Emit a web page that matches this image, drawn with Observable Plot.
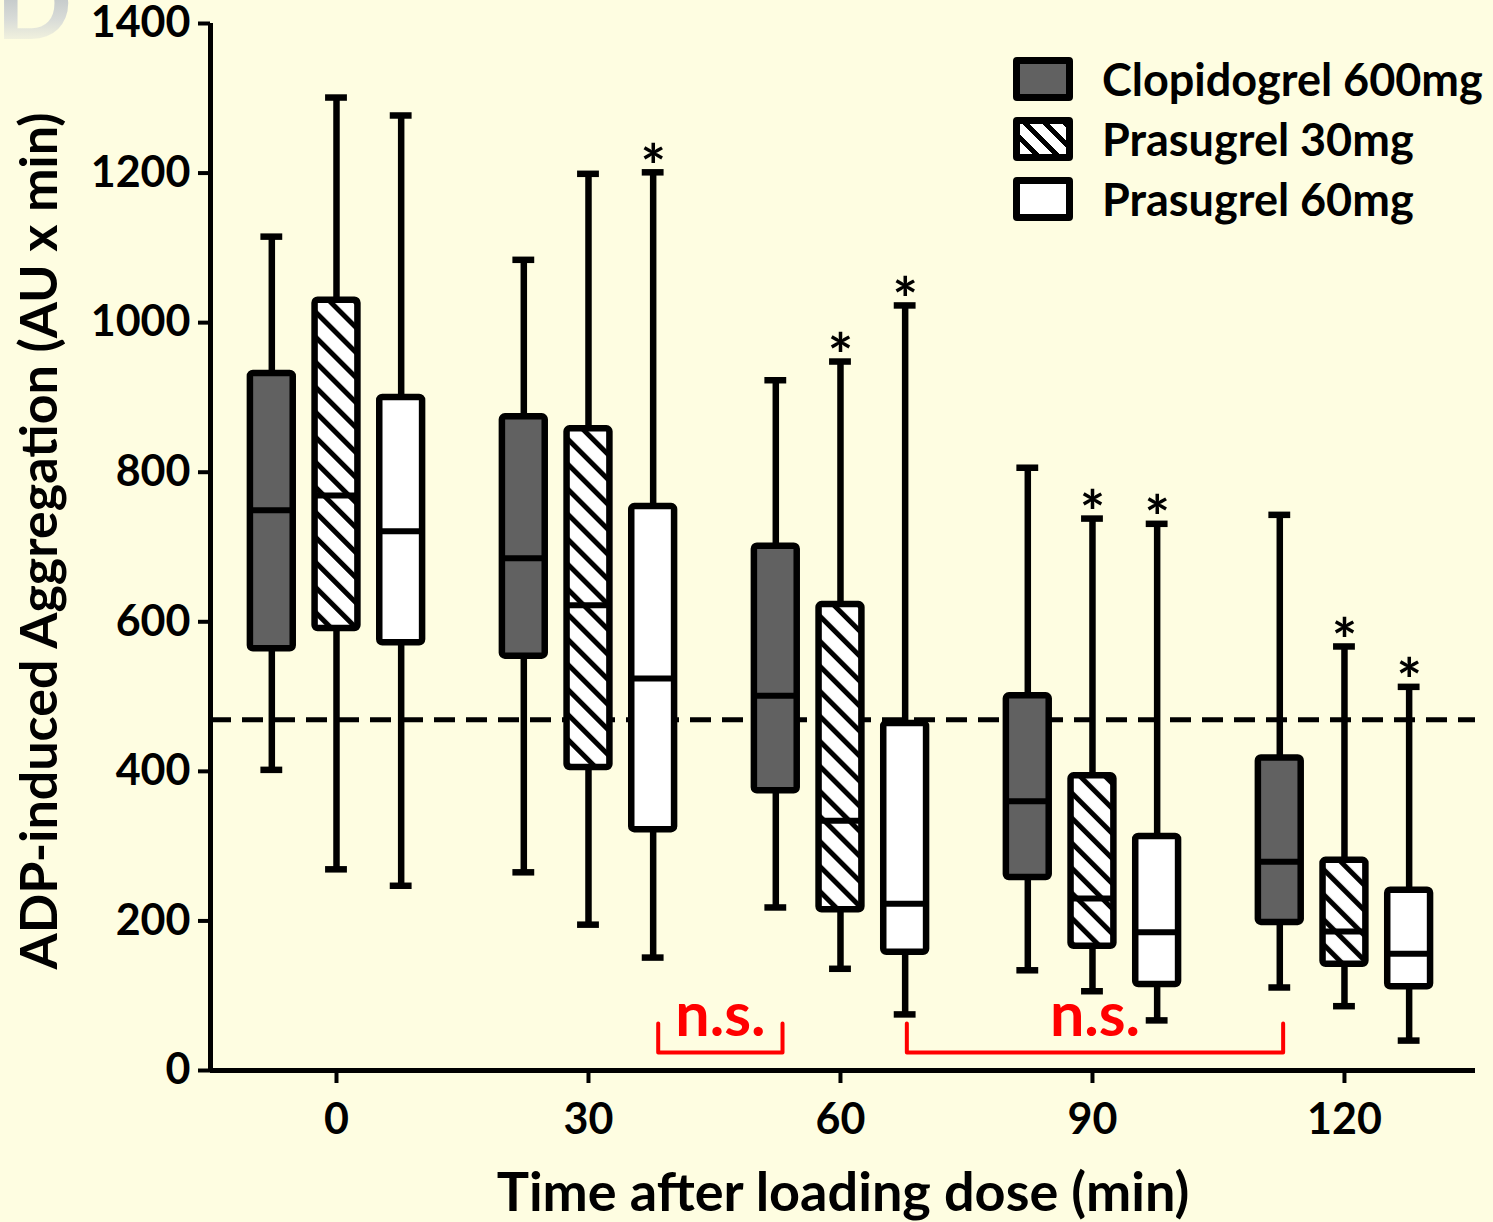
<!DOCTYPE html>
<html>
<head>
<meta charset="utf-8">
<script src="https://cdn.jsdelivr.net/npm/d3@7"></script>
<script src="https://cdn.jsdelivr.net/npm/@observablehq/plot@0.6"></script>
<style>
  html, body { margin: 0; padding: 0; background: #FEFDE1; }
  #wrap { position: relative; width: 1493px; height: 1222px; overflow: hidden; font-family: Lato, "Open Sans", sans-serif; }
  #panel { position: absolute; left: -4px; top: -50px; font-size: 100px; font-weight: bold; line-height: 1;
    background: linear-gradient(180deg, #9aa3ad 0%, #d9dcd8 70%, #fefde1 100%); -webkit-background-clip: text; background-clip: text; color: transparent; }
  #legend { position: absolute; left: 1013px; top: 49px; }
  .row { display: flex; align-items: center; height: 60px; }
  .sw { box-sizing: border-box; width: 60px; height: 44px; border: 7px solid #000; border-radius: 4px; margin-right: 29px; }
  .lbl { font-size: 45px; font-weight: bold; color: #000; white-space: nowrap; }
</style>
</head>
<body>
<div id="wrap">
  <div id="panel">D</div>
  <div id="legend"></div>
</div>
<script>
// ---- data ----
const times = [0, 30, 60, 90, 120];
const groups = ["Clopidogrel 600mg", "Prasugrel 30mg", "Prasugrel 60mg"];
// [group][time]
const whiskerMin = [[402, 265, 218, 134, 111], [269, 195, 136, 106, 86], [247, 151, 75, 67, 40]];
const quartile1  = [[564, 554, 374, 258, 198], [591, 405, 215, 166, 142], [572, 322, 158, 115, 112]];
const medians    = [[749, 685, 501, 360, 279], [769, 622, 334, 230, 186], [721, 524, 223, 185, 156]];
const quartile3  = [[932, 874, 701, 501, 418], [1030, 858, 623, 394, 281], [900, 754, 464, 313, 241]];
const whiskerMax = [[1115, 1084, 923, 806, 743], [1301, 1199, 948, 738, 567], [1277, 1201, 1023, 731, 513]];
const significant = [[0, 0, 0, 0, 0], [0, 0, 1, 1, 1], [0, 1, 1, 1, 1]];
const threshold = 469;
const nsRanges = [[38.3, 53.1], [67.9, 112.7]];
const xTicks = [0, 30, 60, 90, 120];
const yTicks = [0, 200, 400, 600, 800, 1000, 1200, 1400];

// ---- styling / layout constants ----
const offsets = [-7.7, 0, 7.7];       // group offset in minutes
const halfBox = 2.55, halfCap = 1.3;
const fills = ["#616161", "url(#hatch)", "#ffffff"];
const red = "#ff0000";
const font = "Lato, 'Open Sans', sans-serif";

const rows = [];
groups.forEach((g, gi) => times.forEach((t, ti) => rows.push({
  group: g, gi, time: t, c: t + offsets[gi],
  min: whiskerMin[gi][ti], q1: quartile1[gi][ti], med: medians[gi][ti],
  q3: quartile3[gi][ti], max: whiskerMax[gi][ti], star: significant[gi][ti]
})));

const bracketPts = nsRanges.flatMap(([a, b], k) => [
  {x: a, y: 63, k}, {x: a, y: 24, k}, {x: b, y: 24, k}, {x: b, y: 63, k}
]);
const nsLabels = nsRanges.map(([a, b]) => ({x: (a + b) / 2, y: 24, t: "n.s."}));

const boxMarks = groups.map((g, gi) => Plot.rect(rows.filter(d => d.gi === gi), {
  x1: d => d.c - halfBox, x2: d => d.c + halfBox, y1: "q1", y2: "q3",
  fill: fills[gi], stroke: "#000", strokeWidth: 6.5, rx: 3
}));

const plot = Plot.plot({
  width: 1493, height: 1222,
  marginLeft: 210, marginRight: 18, marginTop: 23, marginBottom: 152,
  style: {background: "transparent", fontFamily: font, color: "#000"},
  x: {domain: [-15, 135.6]},
  y: {domain: [0, 1400]},
  marks: [
    Plot.ruleY([threshold], {stroke: "#000", strokeWidth: 5, strokeDasharray: "21,11"}),
    Plot.ruleX(rows, {x: "c", y1: "min", y2: "q1", stroke: "#000", strokeWidth: 6.5}),
    Plot.ruleX(rows, {x: "c", y1: "q3", y2: "max", stroke: "#000", strokeWidth: 6.5}),
    Plot.ruleY(rows, {y: "min", x1: d => d.c - halfCap, x2: d => d.c + halfCap, stroke: "#000", strokeWidth: 6.5}),
    Plot.ruleY(rows, {y: "max", x1: d => d.c - halfCap, x2: d => d.c + halfCap, stroke: "#000", strokeWidth: 6.5}),
    ...boxMarks,
    Plot.ruleY(rows, {y: "med", x1: d => d.c - halfBox, x2: d => d.c + halfBox, stroke: "#000", strokeWidth: 6}),
    Plot.text(rows.filter(d => d.star), {x: "c", y: "max", text: () => "*", dy: -4,
      fontSize: 60, fontWeight: "bold", fill: "#000"}),
    Plot.line(bracketPts, {x: "x", y: "y", z: "k", stroke: red, strokeWidth: 4, strokeLinejoin: "round", strokeLinecap: "round"}),
    Plot.text(nsLabels, {x: "x", y: "y", text: "t", dy: -17, lineAnchor: "bottom",
      fill: red, fontSize: 61, fontWeight: "bold"}),
    Plot.ruleX([-15], {y1: 0, y2: 1400, stroke: "#000", strokeWidth: 5}),
    Plot.ruleY([0], {x1: -15, x2: 135.6, stroke: "#000", strokeWidth: 5}),
    Plot.axisY(yTicks, {tickSize: 12, tickPadding: 8, strokeWidth: 4, fontSize: 43, fontWeight: "bold",
      tickFormat: d => String(d), label: null}),
    Plot.axisX(xTicks, {tickSize: 13, tickPadding: 20, strokeWidth: 4, fontSize: 43, fontWeight: "bold",
      tickFormat: d => String(d), label: null}),
    Plot.text(["ADP-induced Aggregation (AU x min)"], {frameAnchor: "left", dx: -170, dy: -6, rotate: -90,
      textAnchor: "middle", fontSize: 52, fontWeight: "bold", fill: "#000"}),
    Plot.text(["Time after loading dose (min)"], {frameAnchor: "bottom", dy: 140, textAnchor: "middle",
      fontSize: 54, fontWeight: "bold", fill: "#000"})
  ]
});

// hatch pattern for Prasugrel 30mg
const svg = d3.select(plot);
const defs = svg.insert("defs", ":first-child");
const pat = defs.append("pattern").attr("id", "hatch").attr("patternUnits", "userSpaceOnUse")
  .attr("width", 17.7).attr("height", 17.7).attr("patternTransform", "rotate(-45)");
pat.append("rect").attr("width", 17.7).attr("height", 17.7).attr("fill", "#fff");
pat.append("rect").attr("width", 5).attr("height", 17.7).attr("fill", "#000");

plot.style.position = "absolute";
plot.style.left = "0"; plot.style.top = "0";
document.getElementById("wrap").prepend(plot);

// legend
const swStyles = ["background:#616161",
  "background:repeating-linear-gradient(45deg,#fff 0 9px,#000 9px 14px)",
  "background:#fff"];
const leg = d3.select("#legend");
groups.forEach((g, gi) => {
  const r = leg.append("div").attr("class", "row");
  r.append("div").attr("class", "sw").attr("style", swStyles[gi]);
  r.append("div").attr("class", "lbl").text(g);
});
</script>
</body>
</html>
